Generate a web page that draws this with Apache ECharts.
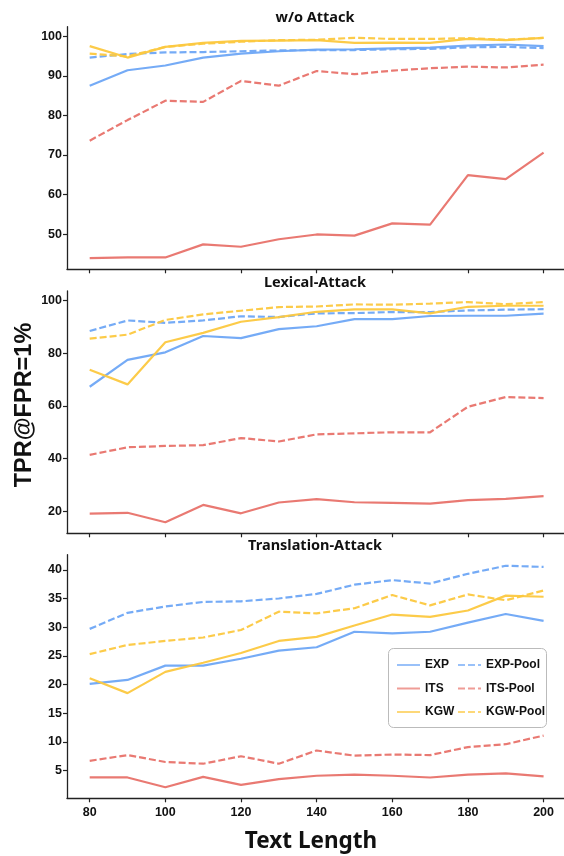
<!DOCTYPE html>
<html>
<head>
<meta charset="utf-8">
<script src="https://cdn.jsdelivr.net/npm/echarts@6/dist/echarts.min.js"></script>
<style>html,body{margin:0;padding:0;background:#fff}#c{width:564px;height:856px}</style>
</head>
<body>
<div id="c"></div>
<script>
const textLengths = [80, 90, 100, 110, 120, 130, 140, 150, 160, 170, 180, 190, 200];
const xTicks = [80, 100, 120, 140, 160, 180, 200];
const panelTitles = ['w/o Attack', 'Lexical-Attack', 'Translation-Attack'];
const yTicksTop = [50, 60, 70, 80, 90, 100];
const yTicksMid = [20, 40, 60, 80, 100];
const yTicksBot = [5, 10, 15, 20, 25, 30, 35, 40];
const seriesNames = ['EXP', 'EXP-Pool', 'ITS', 'ITS-Pool', 'KGW', 'KGW-Pool'];

// w/o Attack
const noAtkEXP     = [87.5, 91.4, 92.6, 94.6, 95.6, 96.2, 96.6, 96.7, 96.9, 97.1, 97.6, 97.9, 97.5];
const noAtkEXPPool = [94.6, 95.5, 95.9, 96.0, 96.2, 96.4, 96.5, 96.5, 96.7, 96.8, 97.2, 97.3, 97.0];
const noAtkITS     = [43.9, 44.1, 44.1, 47.4, 46.8, 48.7, 49.9, 49.6, 52.7, 52.4, 64.9, 63.9, 70.6];
const noAtkITSPool = [73.6, 78.8, 83.7, 83.4, 88.7, 87.5, 91.2, 90.4, 91.3, 91.9, 92.3, 92.1, 92.8];
const noAtkKGW     = [97.5, 94.6, 97.3, 98.3, 98.8, 98.9, 99.0, 98.3, 98.4, 98.3, 99.3, 99.0, 99.6];
const noAtkKGWPool = [95.6, 94.9, 97.3, 98.1, 98.6, 99.0, 99.1, 99.6, 99.3, 99.3, 99.5, 99.1, 99.6];

// Lexical-Attack
const lexEXP     = [67.3, 77.5, 80.4, 86.6, 85.8, 89.2, 90.3, 93.0, 93.0, 94.2, 94.3, 94.3, 95.1];
const lexEXPPool = [88.5, 92.5, 91.6, 92.5, 94.1, 93.8, 95.2, 95.3, 95.7, 95.7, 96.3, 96.6, 96.8];
const lexITS     = [19.1, 19.4, 15.8, 22.4, 19.2, 23.3, 24.6, 23.4, 23.2, 22.9, 24.2, 24.7, 25.7];
const lexITSPool = [41.4, 44.3, 44.8, 45.1, 47.8, 46.5, 49.2, 49.6, 50.0, 50.0, 59.7, 63.4, 63.0];
const lexKGW     = [73.8, 68.2, 84.2, 87.8, 92.0, 93.8, 95.8, 96.7, 96.7, 95.2, 97.7, 98.1, 98.1];
const lexKGWPool = [85.6, 87.1, 92.7, 94.8, 96.2, 97.6, 97.8, 98.6, 98.5, 98.9, 99.5, 98.7, 99.5];

// Translation-Attack
const trEXP     = [20.1, 20.8, 23.3, 23.3, 24.5, 25.9, 26.5, 29.2, 28.9, 29.2, 30.8, 32.3, 31.1];
const trEXPPool = [29.7, 32.5, 33.6, 34.4, 34.5, 35.0, 35.8, 37.4, 38.2, 37.6, 39.3, 40.7, 40.5];
const trITS     = [3.8, 3.8, 2.1, 3.9, 2.5, 3.5, 4.1, 4.3, 4.1, 3.8, 4.3, 4.5, 4.0];
const trITSPool = [6.7, 7.7, 6.5, 6.2, 7.5, 6.2, 8.5, 7.6, 7.8, 7.7, 9.1, 9.6, 11.1];
const trKGW     = [21.1, 18.5, 22.2, 23.8, 25.5, 27.6, 28.3, 30.3, 32.2, 31.8, 32.9, 35.5, 35.3];
const trKGWPool = [25.3, 26.9, 27.6, 28.2, 29.5, 32.7, 32.4, 33.3, 35.6, 33.8, 35.7, 34.7, 36.4];

const panels = [
  [noAtkEXP, noAtkEXPPool, noAtkITS, noAtkITSPool, noAtkKGW, noAtkKGWPool],
  [lexEXP, lexEXPPool, lexITS, lexITSPool, lexKGW, lexKGWPool],
  [trEXP, trEXPPool, trITS, trITSPool, trKGW, trKGWPool]
];

const colors = ['#6ea6f6', '#6ea6f6', '#e8726a', '#e8726a', '#fcc83f', '#fcc83f'];
const gridLayout = [
  {top: 26.7, height: 242.6, ymin: 41.1, ymax: 102.4, ticks: yTicksTop},
  {top: 291, height: 242.3, ymin: 11.6, ymax: 103.7, ticks: yTicksMid},
  {top: 554.7, height: 243.6, ymin: 0.17, ymax: 42.63, ticks: yTicksBot}
];

const tickFont = {fontFamily: 'Liberation Sans', fontWeight: 'bold', fontSize: 12.5, color: '#111'};
const axisLine = {show: true, lineStyle: {color: '#222', width: 1.3}};

const grids = [], xAxes = [], yAxes = [], series = [], titles = [];
gridLayout.forEach((g, i) => {
  grids.push({left: 67, right: 0, top: g.top, height: g.height});
  xAxes.push({
    type: 'value', gridIndex: i, min: 74, max: 205.4,
    axisLine: axisLine, splitLine: {show: false},
    axisTick: {show: true, length: 4, customValues: xTicks, lineStyle: {color: '#222', width: 1.2}},
    axisLabel: Object.assign({show: i === 2, customValues: xTicks, margin: 8}, tickFont)
  });
  yAxes.push({
    type: 'value', gridIndex: i, min: g.ymin, max: g.ymax,
    axisLine: axisLine, splitLine: {show: false},
    axisTick: {show: true, length: 4, customValues: g.ticks, lineStyle: {color: '#222', width: 1.2}},
    axisLabel: Object.assign({customValues: g.ticks, margin: 5}, tickFont)
  });
  titles.push({
    text: panelTitles[i], left: 310, textAlign: 'center', top: g.top - 21,
    textStyle: {fontFamily: 'Noto Sans', fontWeight: 'bold', fontSize: 14.5, color: '#111'}
  });
  panels[i].forEach((vals, k) => {
    series.push({
      name: seriesNames[k], type: 'line', xAxisIndex: i, yAxisIndex: i,
      data: textLengths.map((x, j) => [x, vals[j]]),
      symbol: 'none', silent: true, animation: false,
      lineStyle: {color: colors[k], width: 2.2, opacity: 0.95, type: k % 2 === 1 ? [7, 3] : 'solid'},
      itemStyle: {color: colors[k]}, z: 2 + k
    });
  });
});

const legendText = {fontFamily: 'Liberation Sans', fontWeight: 'bold', fontSize: 12, color: '#111'};
const legendCommon = {orient: 'vertical', top: 654, itemWidth: 23, itemHeight: 14, itemGap: 11.5,
  textStyle: legendText, selectedMode: false, lineStyle: {opacity: 0.7}, itemStyle: {opacity: 0}};
const chart = echarts.init(document.getElementById('c'), null, {renderer: 'canvas'});
chart.setOption({
  backgroundColor: '#fff',
  animation: false,
  title: titles,
  grid: grids,
  xAxis: xAxes,
  yAxis: yAxes,
  series: series,
  legend: [
    Object.assign({data: ['EXP', 'ITS', 'KGW'], left: 391}, legendCommon),
    Object.assign({data: ['EXP-Pool', 'ITS-Pool', 'KGW-Pool'], left: 452}, legendCommon)
  ],
  graphic: [
    {type: 'rect', left: 388, top: 648, z: 1, shape: {width: 158, height: 79, r: 5},
     style: {fill: 'rgba(255,255,255,0.85)', stroke: '#bbb', lineWidth: 1}},
    {type: 'text', x: 311, y: 842, style: {text: 'Text Length', fontFamily: 'Noto Sans',
      fontWeight: 'bold', fontSize: 22.5, fill: '#111', textAlign: 'center', textVerticalAlign: 'middle'}},
    {type: 'text', x: 25, y: 405, rotation: Math.PI / 2, style: {text: 'TPR@FPR=1%', fontFamily: 'Liberation Sans',
      fontWeight: 'bold', fontSize: 23.5, fill: '#111', textAlign: 'center', textVerticalAlign: 'middle'}}
  ]
});
</script>
</body>
</html>
